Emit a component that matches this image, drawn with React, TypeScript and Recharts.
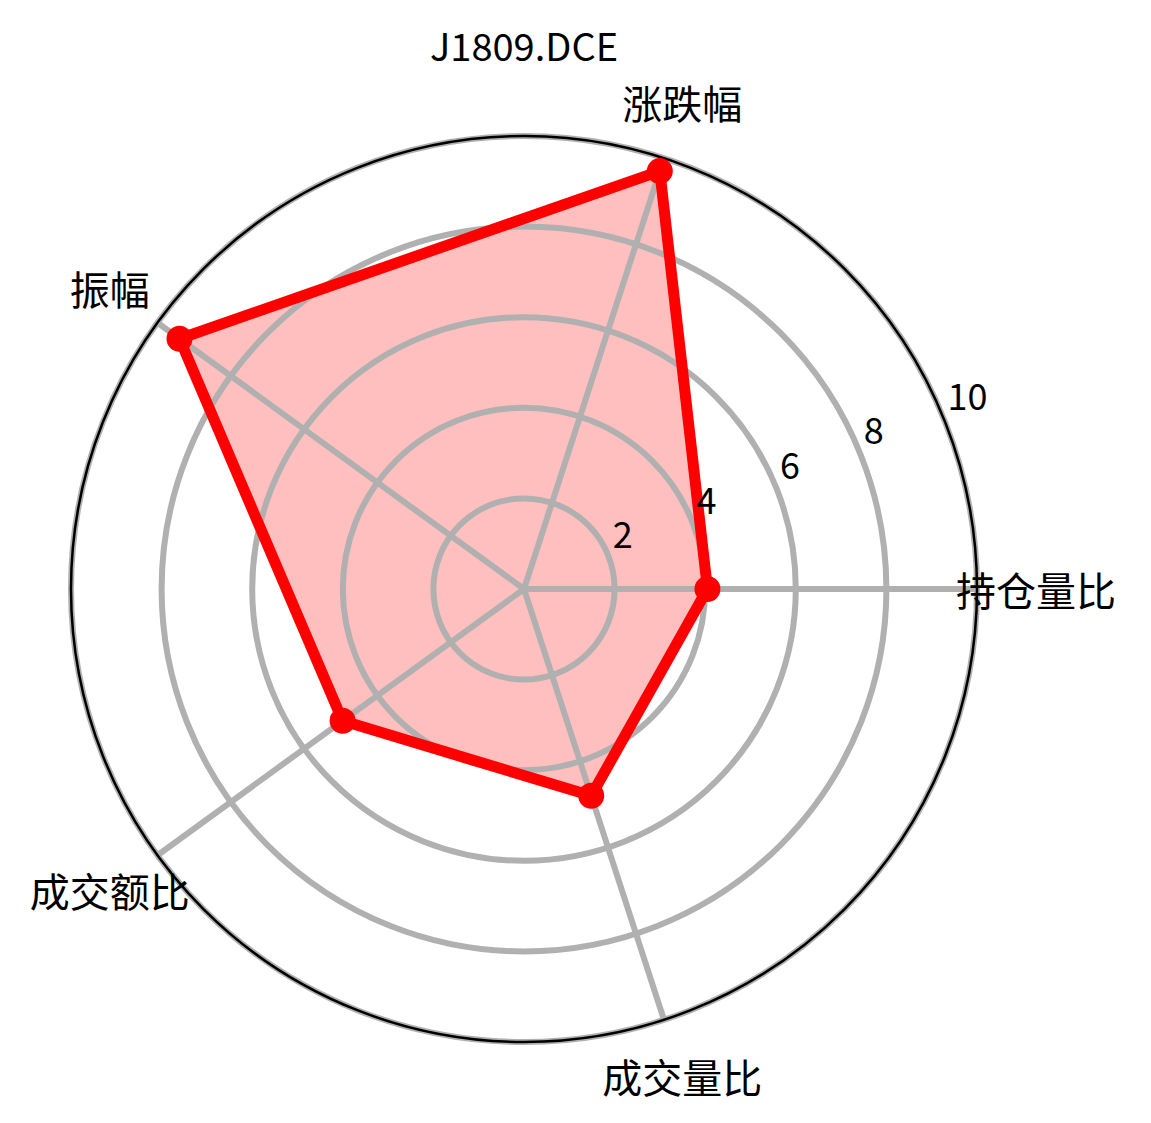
import { PolarAngleAxis, PolarGrid, PolarRadiusAxis, Radar, RadarChart } from 'recharts';

const title = 'J1809.DCE';
const categories = ['持仓量比', '涨跌幅', '振幅', '成交额比', '成交量比'];
const values = [4.05, 9.7, 9.4, 4.95, 4.8];
const radiusTicks = [0, 2, 4, 6, 8, 10];

const FONT = '"Noto Sans CJK SC", "DejaVu Sans", sans-serif';
const OUTER_R = 453;

// recharts lays out the angle axis clockwise, matplotlib goes counter-clockwise:
// keep the first category at 0° and walk the rest in reverse
const order = [0, ...categories.map((_, i) => i).slice(1).reverse()];
const data = order.map((i) => ({ name: categories[i], value: values[i] }));

function AngleTick(props: any) {
  const { x, y, payload } = props;
  return (
    <text
      x={x}
      y={y}
      textAnchor="middle"
      dominantBaseline="central"
      fontFamily={FONT}
      fontSize={40}
      fill="#000"
    >
      {payload.value}
    </text>
  );
}

function RadiusTick(props: any) {
  const { x, y, payload } = props;
  if (payload.value === 0) return null;
  return (
    <text x={x + 5} y={y - 6} textAnchor="start" fontFamily={FONT} fontSize={36} fill="#000">
      {payload.value}
    </text>
  );
}

export default function App() {
  return (
    <div style={{ position: 'absolute', left: 0, top: 0, width: 1151, height: 1123, background: '#fff' }}>
      <div
        style={{
          position: 'absolute',
          left: 324,
          width: 400,
          top: 21,
          textAlign: 'center',
          fontFamily: FONT,
          fontSize: 38,
          lineHeight: '48px',
          color: '#000',
        }}
      >
        {title}
      </div>
      <RadarChart
        width={1151}
        height={1123}
        data={data}
        cx={524}
        cy={589}
        outerRadius={OUTER_R}
        startAngle={0}
        endAngle={-360}
        margin={{ top: 0, right: 0, bottom: 0, left: 0 }}
      >
        <Radar
          dataKey="value"
          stroke="none"
          fill="#ff0000"
          fillOpacity={0.25}
          dot={false}
          zIndex={10}
          isAnimationActive={false}
        />
        <PolarGrid gridType="circle" stroke="#b0b0b0" strokeWidth={6} zIndex={20} />
        <PolarGrid
          gridType="circle"
          polarRadius={[OUTER_R]}
          radialLines={false}
          stroke="#000"
          strokeWidth={2.5}
          zIndex={25}
        />
        <PolarAngleAxis
          dataKey="name"
          tick={<AngleTick />}
          tickLine={false}
          axisLine={false}
          tickSize={59}
        />
        <PolarRadiusAxis
          angle={22.5}
          domain={[0, 10]}
          ticks={radiusTicks}
          tick={<RadiusTick />}
          axisLine={false}
          tickLine={false}
        />
        <Radar
          dataKey="value"
          stroke="#ff0000"
          strokeWidth={11}
          strokeLinejoin="round"
          fill="none"
          dot={{ r: 13, fill: '#ff0000', fillOpacity: 1, stroke: 'none' }}
          zIndex={30}
          isAnimationActive={false}
        />
      </RadarChart>
    </div>
  );
}
